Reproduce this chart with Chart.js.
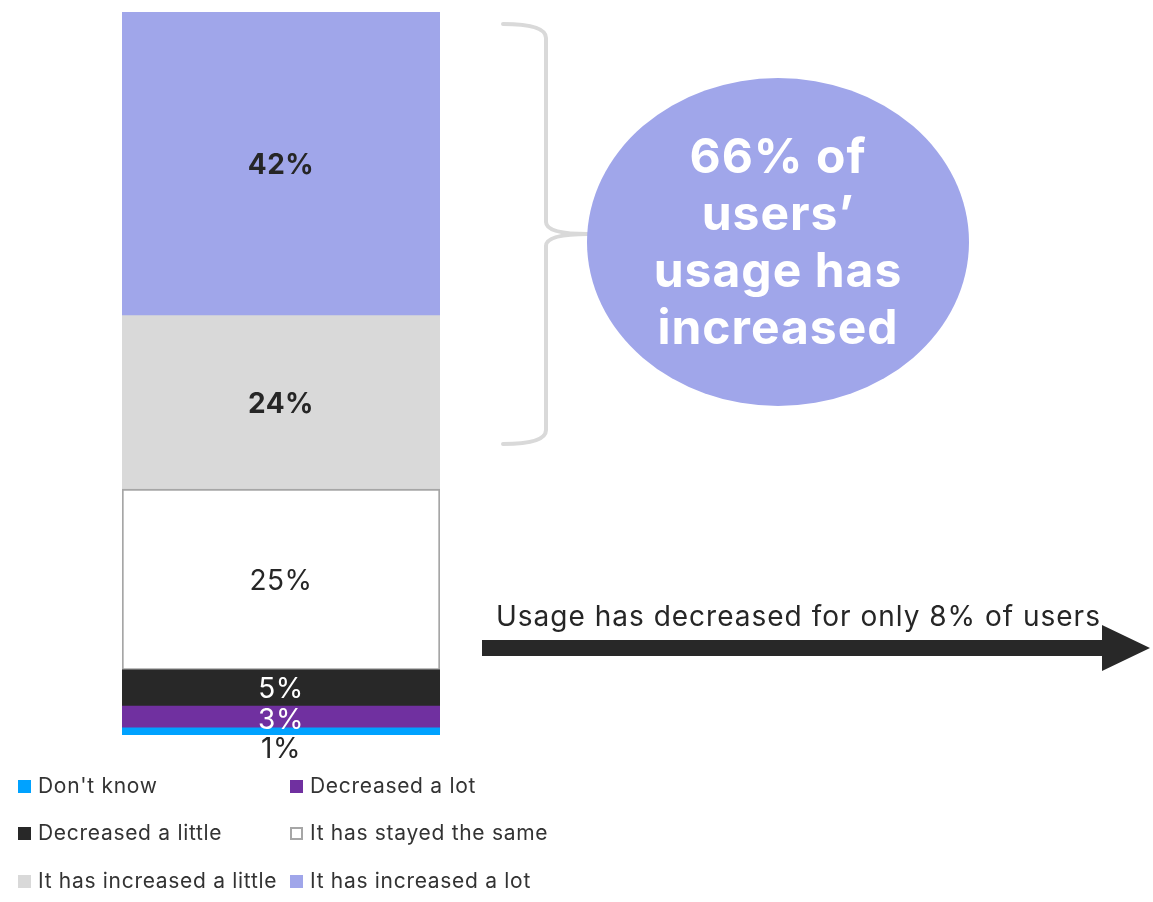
<!DOCTYPE html>
<html>
<head>
<meta charset="utf-8">
<script src="https://cdn.jsdelivr.net/npm/chart.js@4"></script>
<style>
  html, body { margin: 0; padding: 0; background: #fff; }
  #wrap { width: 1153px; height: 902px; position: relative; }
</style>
</head>
<body>
<div id="wrap"><canvas id="usageChart"></canvas></div>
<script>
const categorias = ["Don't know", "Decreased a lot", "Decreased a little", "It has stayed the same", "It has increased a little", "It has increased a lot"];
const percentuais = [1, 3, 5, 25, 24, 42];
const cores = ['#00a2ff', '#7030a0', '#282828', '#ffffff', '#d9d9d9', '#a0a6ea'];
const bordas = [null, null, null, '#a6a6a6', null, null];
const corRotulo = ['#262626', '#ffffff', '#ffffff', '#262626', '#262626', '#262626'];
const rotuloNegrito = [false, false, false, false, true, true];

const FONTE = 'Inter, "DejaVu Sans", sans-serif';

const datasets = categorias.map((nome, i) => ({
    label: nome,
    data: [percentuais[i]],
    backgroundColor: cores[i],
    borderColor: bordas[i] || cores[i],
    borderWidth: bordas[i] ? 2 : 0,
    borderSkipped: false,
    barPercentage: 1,
    categoryPercentage: 1
}));

// rótulos de porcentagem dentro de cada segmento
const rotulos = {
    id: 'rotulos',
    afterDatasetsDraw(chart) {
        const ctx = chart.ctx;
        ctx.save();
        ctx.textAlign = 'center';
        ctx.textBaseline = 'middle';
        ctx.letterSpacing = '0.5px';
        chart.data.datasets.forEach((ds, i) => {
            const bar = chart.getDatasetMeta(i).data[0];
            let y = (bar.y + bar.base) / 2 + 2;
            if (percentuais[i] < 2) y = bar.base + 15;      // muito fino, o texto fica abaixo
            else if (percentuais[i] < 4) y += 2;
            ctx.font = (rotuloNegrito[i] ? 'bold ' : '') + '28px ' + FONTE;
            ctx.fillStyle = corRotulo[i];
            ctx.fillText(ds.data[0] + '%', bar.x, y);
        });
        ctx.restore();
    }
};

// chave, balão, seta e legenda em duas colunas
const anotacoes = {
    id: 'anotacoes',
    afterDraw(chart) {
        const ctx = chart.ctx;
        const aumentou = percentuais[4] + percentuais[5];
        const diminuiu = percentuais[1] + percentuais[2];
        ctx.save();

        // chave
        const topo = 24, fundo = 444, meio = 234;
        ctx.strokeStyle = '#d9d9d9';
        ctx.lineWidth = 4;
        ctx.lineCap = 'round';
        ctx.beginPath();
        ctx.moveTo(503, topo);
        ctx.quadraticCurveTo(546, topo, 546, topo + 14);
        ctx.lineTo(546, meio - 12);
        ctx.quadraticCurveTo(546, meio, 588, meio);
        ctx.moveTo(588, meio);
        ctx.quadraticCurveTo(546, meio, 546, meio + 12);
        ctx.lineTo(546, fundo - 14);
        ctx.quadraticCurveTo(546, fundo, 503, fundo);
        ctx.stroke();

        // balão
        ctx.fillStyle = '#a0a6ea';
        ctx.beginPath();
        ctx.ellipse(778, 242, 191, 164, 0, 0, Math.PI * 2);
        ctx.fill();
        ctx.fillStyle = '#ffffff';
        ctx.font = 'bold 48px ' + FONTE;
        ctx.letterSpacing = '1px';
        ctx.textAlign = 'center';
        ctx.textBaseline = 'alphabetic';
        [aumentou + '% of', 'users\u2019', 'usage has', 'increased'].forEach((t, k) => {
            ctx.fillText(t, 778, 173 + k * 57);
        });

        // seta
        ctx.fillStyle = '#282828';
        ctx.beginPath();
        ctx.moveTo(482, 640);
        ctx.lineTo(1102, 640);
        ctx.lineTo(1102, 625);
        ctx.lineTo(1150, 648);
        ctx.lineTo(1102, 671);
        ctx.lineTo(1102, 656);
        ctx.lineTo(482, 656);
        ctx.closePath();
        ctx.fill();
        ctx.fillStyle = '#262626';
        ctx.font = '28px ' + FONTE;
        ctx.letterSpacing = '1px';
        ctx.textAlign = 'left';
        ctx.fillText('Usage has decreased for only ' + diminuiu + '% of users', 496, 626);

        // legenda
        const colX = [18, 290];
        const linY = [787, 834, 882];
        ctx.font = '21px ' + FONTE;
        ctx.letterSpacing = '0.7px';
        ctx.textBaseline = 'middle';
        chart.data.datasets.forEach((ds, i) => {
            const x = colX[i % 2];
            const ly = linY[Math.floor(i / 2)];
            if (bordas[i]) {
                ctx.fillStyle = '#ffffff';
                ctx.fillRect(x, ly - 7, 13, 13);
                ctx.strokeStyle = bordas[i];
                ctx.lineWidth = 2;
                ctx.strokeRect(x + 1, ly - 6, 11, 11);
            } else {
                ctx.fillStyle = ds.backgroundColor;
                ctx.fillRect(x, ly - 7, 13, 13);
            }
            ctx.fillStyle = '#333333';
            ctx.fillText(ds.label, x + 20, ly);
        });
        ctx.restore();
    }
};

new Chart(document.getElementById('usageChart').getContext('2d'), {
    type: 'bar',
    data: {
        labels: [''],
        datasets: datasets
    },
    options: {
        responsive: true,
        maintainAspectRatio: false,
        animation: false,
        layout: {
            padding: { left: 122, right: 713, top: 12, bottom: 167 }
        },
        plugins: {
            legend: { display: false },
            tooltip: { enabled: false }
        },
        scales: {
            x: { stacked: true, display: false },
            y: { stacked: true, display: false, min: 0, max: 100 }
        }
    },
    plugins: [rotulos, anotacoes]
});
</script>
</body>
</html>
